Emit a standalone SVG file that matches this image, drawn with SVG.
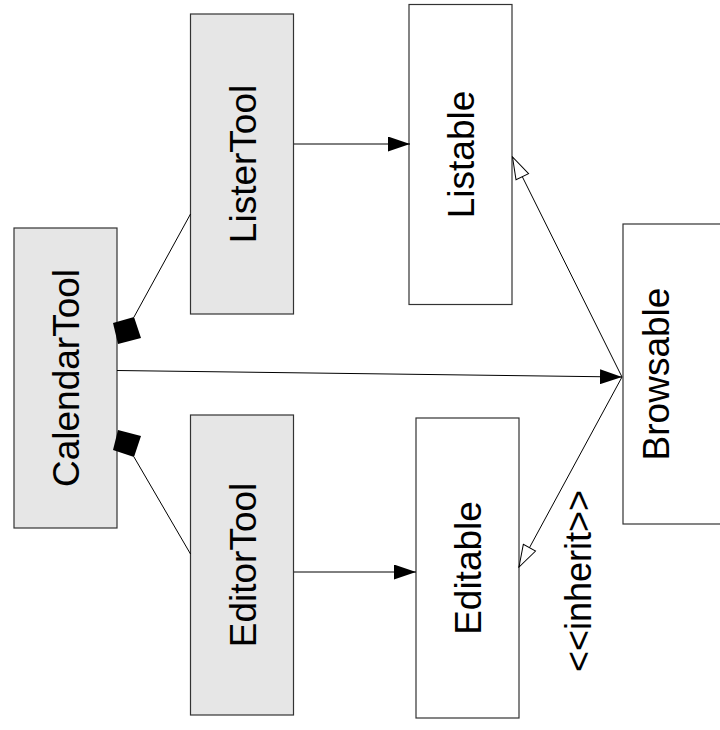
<svg xmlns="http://www.w3.org/2000/svg" width="720" height="730" viewBox="0 0 720 730">
<style>
.box{stroke:#333;stroke-width:1.2}
.tool{fill:#e6e6e6}
.iface{fill:#fff}
.lbl{font-family:"Liberation Sans",Arial,sans-serif;font-size:37px;fill:#000;text-anchor:middle}
.note{font-family:"Liberation Sans",Arial,sans-serif;font-size:36px;fill:#000;text-anchor:middle}
.ln{stroke:#000;stroke-width:1;fill:none}
</style>
<defs>
<marker id="fill" viewBox="0 0 22 15" refX="22" refY="7.5" markerWidth="22" markerHeight="15" markerUnits="userSpaceOnUse" orient="auto">
<path d="M0,0 L22,7.5 L0,15 Z" fill="#000"/>
</marker>
<marker id="open" viewBox="0 0 24 16" refX="23" refY="8" markerWidth="24" markerHeight="16" markerUnits="userSpaceOnUse" orient="auto">
<path d="M1,1 L23,8 L1,15 Z" fill="#fff" stroke="#000" stroke-width="1"/>
</marker>
</defs>
<rect width="720" height="730" fill="#fff"/>
<g id="CalendarTool">
<rect class="box tool" x="14" y="228" width="103" height="300"/>
<text class="lbl" transform="translate(78.5,378) rotate(-90)">CalendarTool</text>
</g>
<g id="ListerTool">
<rect class="box tool" x="190.5" y="14" width="103" height="300"/>
<text class="lbl" transform="translate(255.5,164) rotate(-90)">ListerTool</text>
</g>
<g id="EditorTool">
<rect class="box tool" x="190.5" y="415" width="103" height="300"/>
<text class="lbl" transform="translate(255.5,565) rotate(-90)">EditorTool</text>
</g>
<g id="Listable">
<rect class="box iface" x="409" y="4.5" width="103" height="300"/>
<text class="lbl" transform="translate(474,154.5) rotate(-90)">Listable</text>
</g>
<g id="Editable">
<rect class="box iface" x="416" y="418" width="103" height="300"/>
<text class="lbl" transform="translate(481,568) rotate(-90)">Editable</text>
</g>
<g id="Browsable">
<rect class="box iface" x="623" y="224" width="103" height="300"/>
<text class="lbl" transform="translate(669,374) rotate(-90)">Browsable</text>
</g>
<g id="connectors">
<line class="ln" x1="294" y1="144" x2="410" y2="144" marker-end="url(#fill)"/>
<line class="ln" x1="294" y1="572" x2="416" y2="572" marker-end="url(#fill)"/>
<line class="ln" x1="117" y1="370.5" x2="622" y2="377" marker-end="url(#fill)"/>
<line class="ln" x1="622" y1="377" x2="512.5" y2="157" marker-end="url(#open)"/>
<line class="ln" x1="622" y1="377" x2="519" y2="567" marker-end="url(#open)"/>
<line class="ln" x1="134" y1="317" x2="190.5" y2="214"/>
<polygon points="118,344 113,323 134,317 141,338" fill="#000"/>
<line class="ln" x1="134" y1="457" x2="190.5" y2="554"/>
<polygon points="118,430 113,450 134,457 141,436" fill="#000"/>
<text class="note" transform="translate(591,581) rotate(-90)">&lt;&lt;inherit&gt;&gt;</text>
</g>
</svg>
